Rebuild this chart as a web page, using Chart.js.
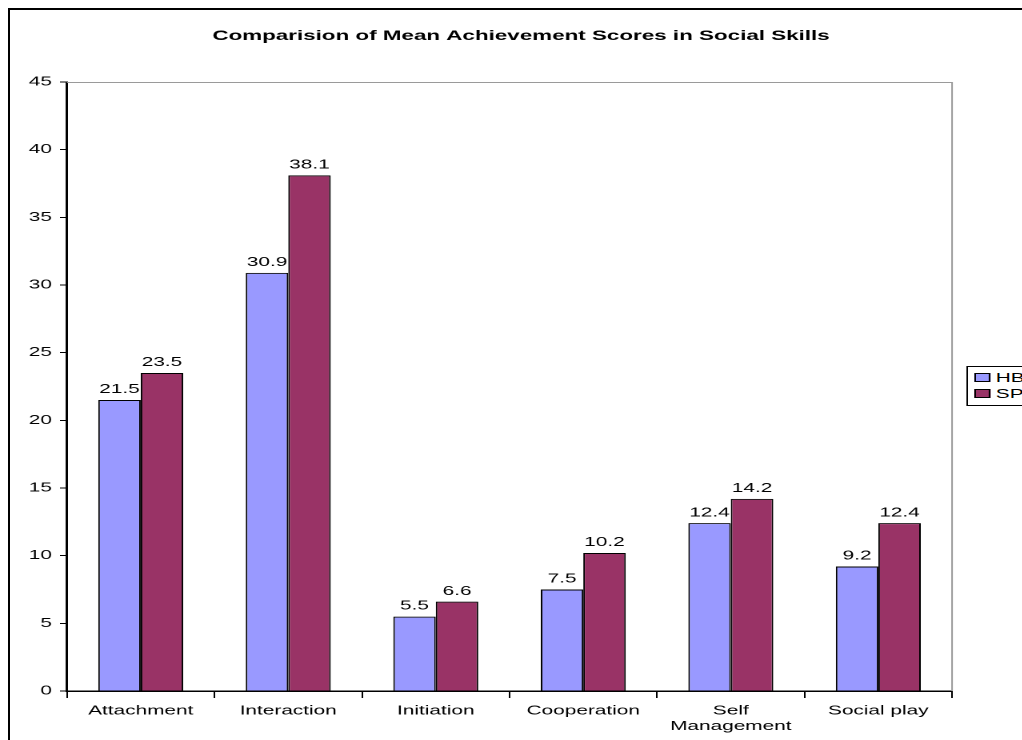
<!DOCTYPE html>
<html>
<head>
<meta charset="utf-8">
<script src="https://cdn.jsdelivr.net/npm/chart.js@4.4.1/dist/chart.umd.min.js"></script>
<style>
  html, body { margin: 0; padding: 0; background: #fff; overflow: hidden; width: 1022px; height: 740px; }
  #frame { position: absolute; left: 8px; top: 8px; width: 1100px; height: 800px; border-left: 2px solid #000; border-top: 2px solid #000; }
  #wrap { position: absolute; left: 0; top: 0; height: 740px; transform-origin: 0 0; }
  #legend { position: absolute; border: 1px solid #000; background: #fff; font: 13px "Liberation Sans", Arial, sans-serif; color: #000; padding: 3px 4px; width: 60px; }
  #legend div { height: 16px; line-height: 16px; white-space: nowrap; }
  #legend span { display: inline-block; width: 8px; height: 7px; border: 1px solid #000; margin-right: 3px; vertical-align: 0px; }
</style>
</head>
<body>
<div id="frame"></div>
<div id="wrap">
  <canvas id="chart"></canvas>
  <div id="legend"></div>
</div>
<script>
  // dados do grafico
  const categorias = ['Attachment', 'Interaction', 'Initiation', 'Cooperation', ['Self', 'Management'], 'Social play'];
  const serieHB = [21.5, 30.9, 5.5, 7.5, 12.4, 9.2];
  const serieSP = [23.5, 38.1, 6.6, 10.2, 14.2, 12.4];
  const nomesSeries = ['HB', 'SP'];
  const coresSeries = ['#9999FF', '#993366'];
  const ticksY = [0, 5, 10, 15, 20, 25, 30, 35, 40, 45];
  const titulo = 'Comparision of Mean Achievement Scores in Social Skills';

  // o original esta esticado na horizontal
  const S = 1.6;
  const W = 1042 / S;
  const wrap = document.getElementById('wrap');
  wrap.style.width = W + 'px';
  wrap.style.transform = 'scaleX(' + S + ')';

  const legend = document.getElementById('legend');
  legend.style.left = (967 / S) + 'px';
  legend.style.top = '366px';
  legend.innerHTML = nomesSeries.map((n, i) =>
    `<div><span style="background:${coresSeries[i]}"></span>${n}</div>`).join('');

  const fonte = { family: '"Liberation Sans", Arial, sans-serif', size: 13 };

  const rotulosBarras = {
    id: 'rotulosBarras',
    afterDatasetsDraw(chart) {
      const ctx = chart.ctx;
      ctx.save();
      ctx.font = '13px "Liberation Sans", Arial, sans-serif';
      ctx.fillStyle = '#000';
      ctx.textAlign = 'center';
      ctx.textBaseline = 'bottom';
      chart.data.datasets.forEach((ds, i) => {
        chart.getDatasetMeta(i).data.forEach((bar, j) => {
          ctx.fillText(ds.data[j].toFixed(1), bar.x, bar.y - 4);
        });
      });
      ctx.restore();
    }
  };

  const moldura = {
    id: 'moldura',
    beforeDatasetsDraw(chart) {
      const { ctx, chartArea: a } = chart;
      ctx.save();
      ctx.strokeStyle = '#9a9a9a';
      ctx.lineWidth = 1;
      ctx.beginPath();
      ctx.moveTo(a.left, a.top + 0.5);
      ctx.lineTo(a.right, a.top + 0.5);
      ctx.lineTo(a.right, a.bottom);
      ctx.stroke();
      ctx.restore();
    },
    afterDraw(chart) {
      const ctx = chart.ctx;
      ctx.save();
      ctx.font = 'bold 14px "Liberation Sans", Arial, sans-serif';
      ctx.fillStyle = '#000';
      ctx.textAlign = 'center';
      ctx.textBaseline = 'middle';
      ctx.fillText(titulo, chart.width / 2, 36);
      ctx.restore();
    }
  };

  window.addEventListener('DOMContentLoaded', function() {
    const ctx = document.getElementById('chart').getContext('2d');
    new Chart(ctx, {
      type: 'bar',
      data: {
        labels: categorias,
        datasets: [serieHB, serieSP].map((d, i) => ({
          label: nomesSeries[i],
          data: d,
          backgroundColor: coresSeries[i],
          borderColor: '#000',
          borderWidth: 1,
          borderSkipped: 'bottom',
          categoryPercentage: 0.576,
          barPercentage: 1
        }))
      },
      options: {
        responsive: true,
        maintainAspectRatio: false,
        animation: false,
        devicePixelRatio: 2,
        layout: { padding: { top: 82, right: W - 952 / S, left: 0, bottom: 0 } },
        plugins: { legend: { display: false }, title: { display: false }, tooltip: { enabled: false } },
        scales: {
          y: {
            min: 0,
            max: 45,
            afterBuildTicks: (scale) => { scale.ticks = ticksY.map(v => ({ value: v })); },
            afterFit: (scale) => { scale.width = 67 / S; },
            grid: { drawOnChartArea: false, drawTicks: true, tickLength: 7 / S, color: '#000' },
            border: { color: '#000', width: 1.5 },
            ticks: { color: '#000', font: fonte, padding: 5 }
          },
          x: {
            afterFit: (scale) => { scale.height = 49; },
            grid: { offset: true, drawOnChartArea: false, drawTicks: true, tickLength: 7, color: '#000' },
            border: { color: '#000', width: 1.5 },
            ticks: { color: '#000', font: { ...fonte, lineHeight: 1.2 }, padding: 5, maxRotation: 0, autoSkip: false }
          }
        }
      },
      plugins: [rotulosBarras, moldura]
    });
  });
</script>
</body>
</html>
